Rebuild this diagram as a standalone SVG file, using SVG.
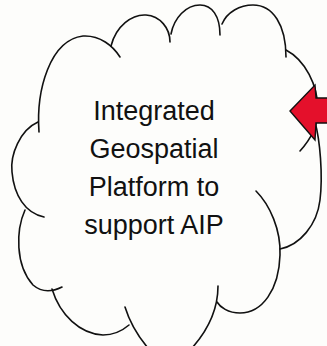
<svg xmlns="http://www.w3.org/2000/svg" width="327" height="346" viewBox="0 0 327 346">
<style>
.cl{fill:none;stroke:#111;stroke-width:1.6;stroke-linecap:round}
.lbl{font-family:"Liberation Sans",Arial,sans-serif;font-size:27px;fill:#111;text-anchor:middle}
</style>
<rect width="327" height="346" fill="#fdfdfb"/>
<g id="cloud">
<path class="cl" d="M39,132 C36,90 50,40 83,36 C100,35 113,46 120,57"/>
<path class="cl" d="M111,46 C116,26 132,14 146,15 C160,16 170,28 170,42"/>
<path class="cl" d="M171,34 C174,18 186,5 200,5 C212,5 220,16 220,35"/>
<path class="cl" d="M222,24 C227,12 240,5 253,5 C273,5 286,25 286,57"/>
<path class="cl" d="M286,50 C305,60 318,85 318,110 C318,125 310,140 300,151"/>
<path class="cl" d="M315,122 C320,140 323,175 320,200 C317,225 300,245 280,249"/>
<path class="cl" d="M256,191 C270,205 281,230 280,255 C279,290 262,313 240,313 C228,313 220,307 217,302"/>
<path class="cl" d="M218,286 C218,310 208,330 192,348"/>
<path class="cl" d="M125,307 C129,320 137,335 148,348"/>
<path class="cl" d="M52,289 C60,315 80,334 103,335 C113,335 122,331 129,325"/>
<path class="cl" d="M25,210 C16,230 15,265 33,285 C40,291 50,293 62,287"/>
<path class="cl" d="M38,122 C20,130 10,155 12,172 C14,195 25,213 44,217"/>
<text class="lbl" x="154" y="120">Integrated</text>
<text class="lbl" x="154" y="158">Geospatial</text>
<text class="lbl" x="154" y="196">Platform to</text>
<text class="lbl" x="154" y="234">support AIP</text>
</g>
<g id="arrow">
<polygon points="290,111 315,85 316,98 330,98 330,123 316,123 315,140" fill="#e4102b" stroke="#111" stroke-width="1.4" stroke-linejoin="miter"/>
</g>
<g id="connectors"/>
</svg>
